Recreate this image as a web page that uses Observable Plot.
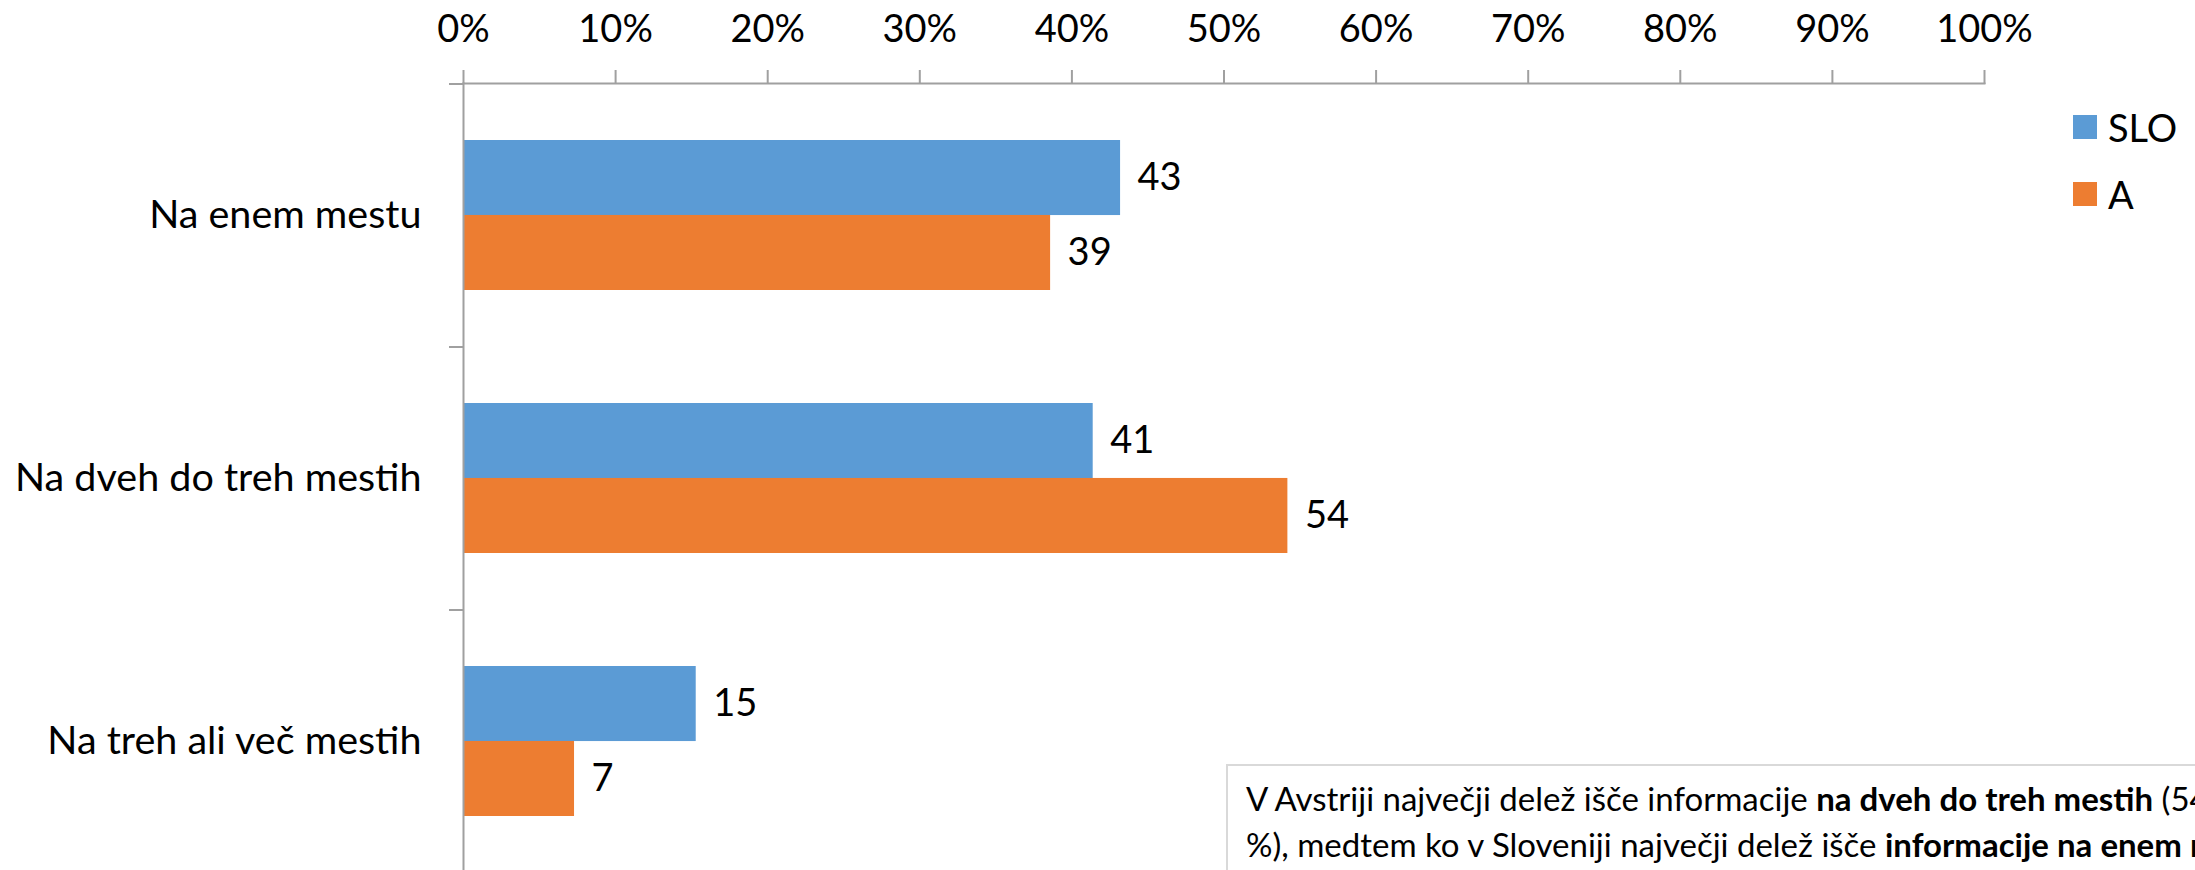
<!DOCTYPE html>
<html>
<head>
<meta charset="utf-8">
<script src="https://cdn.jsdelivr.net/npm/d3@7"></script>
<script src="https://cdn.jsdelivr.net/npm/@observablehq/plot@0.6"></script>
<style>
  html, body { margin: 0; padding: 0; background: #fff; overflow: hidden; width: 2195px; height: 870px; }
  #chart { position: relative; width: 2195px; height: 870px; font-family: Lato, "Open Sans", sans-serif; color: #000; }
  #chart svg { position: absolute; left: 0; top: 0; overflow: visible; }
  .legend { position: absolute; left: 2073px; top: 109px; font-size: 38px; }
  .legend .row { display: flex; align-items: center; height: 36px; margin-bottom: 31px; }
  .legend .sw { width: 24px; height: 24px; margin-right: 11px; }
  .note { position: absolute; left: 1226px; top: 764px; width: 1400px; height: 200px; border: 2px solid #d9d9d9;
          box-sizing: border-box; padding: 9px 0 0 18px; font-size: 33px; line-height: 46px; white-space: nowrap; background: #fff; }
</style>
</head>
<body>
<div id="chart"></div>
<script>
const categories = ["Na enem mestu", "Na dveh do treh mestih", "Na treh ali več mestih"];
const series = ["SLO", "A"];
const sloValues = [43.2, 41.4, 15.3];
const aValues = [38.6, 54.2, 7.3];
const xTicks = [0, 10, 20, 30, 40, 50, 60, 70, 80, 90, 100];
const seriesColors = ["#5b9bd5", "#ed7d31"];
const noteLines = [
  [["V Avstriji največji delež išče informacije ", false], ["na dveh do treh mestih", true], [" (54", false]],
  [["%), medtem ko v Sloveniji največji delež išče ", false], ["informacije na enem mestu", true], [" (43 %).", false]]
];

const data = categories.flatMap((c, i) => [
  {category: c, series: series[0], value: sloValues[i]},
  {category: c, series: series[1], value: aValues[i]}
]);

const W = 2195, H = 872, mTop = 83, mBottom = 0, mLeft = 463, mRight = 211;
const padInner = 0.43;
const bandStep = (H - mTop - mBottom) / categories.length;
const bw = bandStep * (1 - padInner);
const half = bw / 2;
const axisColor = "#a0a0a0";
const fmt = d3.format(".0f");

const plot = Plot.plot({
  width: W, height: H,
  marginTop: mTop, marginBottom: mBottom, marginLeft: mLeft, marginRight: mRight,
  style: {fontFamily: "Lato, 'Open Sans', sans-serif", color: "#000", background: "transparent"},
  x: {domain: [0, 100], axis: null},
  y: {domain: categories, paddingInner: padInner, paddingOuter: padInner / 2, axis: null},
  color: {domain: series, range: seriesColors},
  marks: [
    Plot.barX(data.filter(d => d.series === series[0]), {x: "value", y: "category", fill: "series", insetBottom: half}),
    Plot.barX(data.filter(d => d.series === series[1]), {x: "value", y: "category", fill: "series", insetTop: half}),
    Plot.text(data.filter(d => d.series === series[0]), {x: "value", y: "category", text: d => fmt(d.value), dx: 17, dy: -half / 2, textAnchor: "start", fontSize: 38, fill: "#000"}),
    Plot.text(data.filter(d => d.series === series[1]), {x: "value", y: "category", text: d => fmt(d.value), dx: 17, dy: half / 2, textAnchor: "start", fontSize: 38, fill: "#000"}),
    Plot.frame({anchor: "top", stroke: axisColor, strokeWidth: 2}),
    Plot.frame({anchor: "left", stroke: axisColor, strokeWidth: 2}),
    Plot.axisX({anchor: "top", ticks: xTicks, tickSize: 14, tickPadding: 28, tickFormat: d => d + "%", fontSize: 38, stroke: axisColor, strokeWidth: 2, fill: "#000", label: null}),
    Plot.axisY({anchor: "left", tickSize: 0, tickPadding: 42, fontSize: 39.5, fill: "#000", label: null}),
    Plot.axisY({anchor: "left", text: null, tickSize: 14, dy: -bandStep / 2, stroke: axisColor, strokeWidth: 2, label: null})
  ]
});

const chart = document.getElementById("chart");
chart.appendChild(plot);

const legend = document.createElement("div");
legend.className = "legend";
series.forEach((s, i) => {
  const row = document.createElement("div");
  row.className = "row";
  const sw = document.createElement("div");
  sw.className = "sw";
  sw.style.background = seriesColors[i];
  const lab = document.createElement("span");
  lab.textContent = s;
  row.appendChild(sw);
  row.appendChild(lab);
  legend.appendChild(row);
});
chart.appendChild(legend);

const note = document.createElement("div");
note.className = "note";
noteLines.forEach(line => {
  const div = document.createElement("div");
  line.forEach(([t, b]) => {
    const span = document.createElement("span");
    span.textContent = t;
    if (b) span.style.fontWeight = "bold";
    div.appendChild(span);
  });
  note.appendChild(div);
});
chart.appendChild(note);
</script>
</body>
</html>
